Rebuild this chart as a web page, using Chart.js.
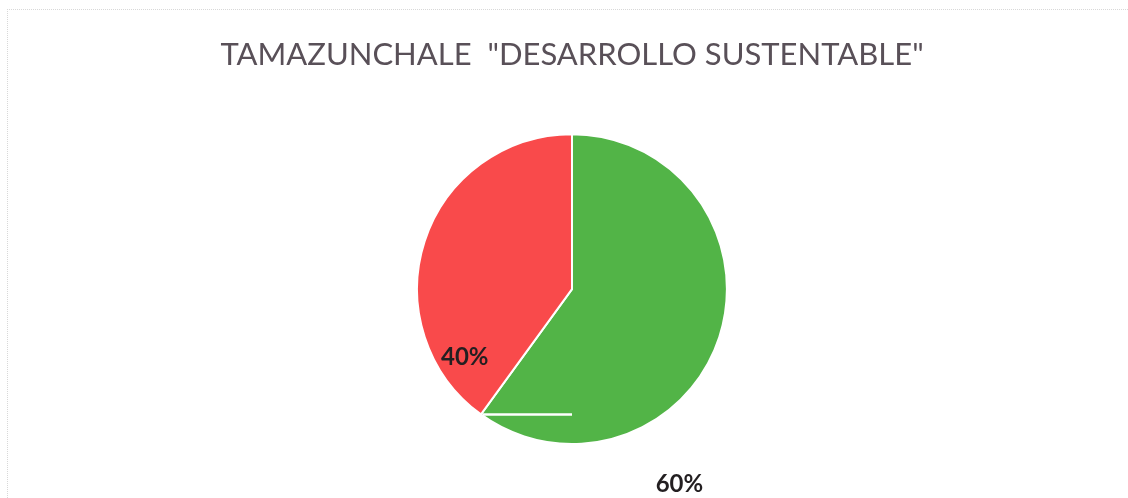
<!DOCTYPE html>
<html>
<head>
<meta charset="utf-8">
<script src="https://cdn.jsdelivr.net/npm/chart.js@4/dist/chart.umd.min.js"></script>
<style>
  html, body { margin: 0; padding: 0; background: #fff; }
  #wrap { position: relative; width: 1128px; height: 498px; }
  #frame { position: absolute; left: 7px; top: 9px; right: 0; bottom: 0;
           border-left: 1px dotted #d8d8d8; border-top: 1px dotted #d8d8d8; }
  canvas { position: absolute; left: 0; top: 0; }
</style>
</head>
<body>
<div id="wrap">
  <div id="frame"></div>
  <canvas id="pie" width="1128" height="498"></canvas>
</div>
<script>
// data
var categories = ["Sí", "No"];
var values = [60, 40];
var sliceColors = ["#52b447", "#f94a4b"];
var chartTitle = 'TAMAZUNCHALE  "DESARROLLO SUSTENTABLE"';

// where each percent label sits: fraction along its arc, distance as part of radius
var labelSpots = [{ frac: 0.70, dist: 1.44 }, { frac: 0.15, dist: 0.82 }];

var total = values.reduce(function (a, b) { return a + b; }, 0);

// draws the percent labels and the little white leader line
var pieLabels = {
  id: "pieLabels",
  afterDatasetsDraw: function (chart) {
    var ctx = chart.ctx;
    var arcs = chart.getDatasetMeta(0).data;
    ctx.save();

    // leader line from the slice boundary across to the centre line
    var a0 = arcs[0];
    var bx = a0.x + Math.cos(a0.endAngle) * a0.outerRadius;
    var by = a0.y + Math.sin(a0.endAngle) * a0.outerRadius;
    ctx.strokeStyle = "#ffffff";
    ctx.lineWidth = 2.5;
    ctx.beginPath();
    ctx.moveTo(bx + 2, by);
    ctx.lineTo(a0.x, by);
    ctx.stroke();

    ctx.font = "bold 24px Lato, 'Open Sans', sans-serif";
    ctx.fillStyle = "#231f21";
    ctx.textAlign = "center";
    ctx.textBaseline = "middle";
    arcs.forEach(function (arc, i) {
      var spot = labelSpots[i];
      var ang = arc.startAngle + (arc.endAngle - arc.startAngle) * spot.frac;
      var r = arc.outerRadius * spot.dist;
      var pct = Math.round(values[i] / total * 100) + "%";
      ctx.fillText(pct, arc.x + Math.cos(ang) * r, arc.y + Math.sin(ang) * r);
    });
    ctx.restore();
  }
};

new Chart(document.getElementById("pie"), {
  type: "pie",
  data: {
    labels: categories,
    datasets: [{
      data: values,
      backgroundColor: sliceColors,
      borderColor: "#ffffff",
      borderWidth: 2
    }]
  },
  options: {
    responsive: false,
    animation: false,
    layout: { padding: { left: 16, right: 0, top: 0, bottom: 53 } },
    plugins: {
      legend: { display: false },
      tooltip: { enabled: false },
      title: {
        display: true,
        text: chartTitle,
        color: "#595058",
        font: { family: "Lato, 'Open Sans', sans-serif", size: 31, weight: "normal" },
        padding: { top: 36, bottom: 60 }
      }
    }
  },
  plugins: [pieLabels]
});
</script>
</body>
</html>
